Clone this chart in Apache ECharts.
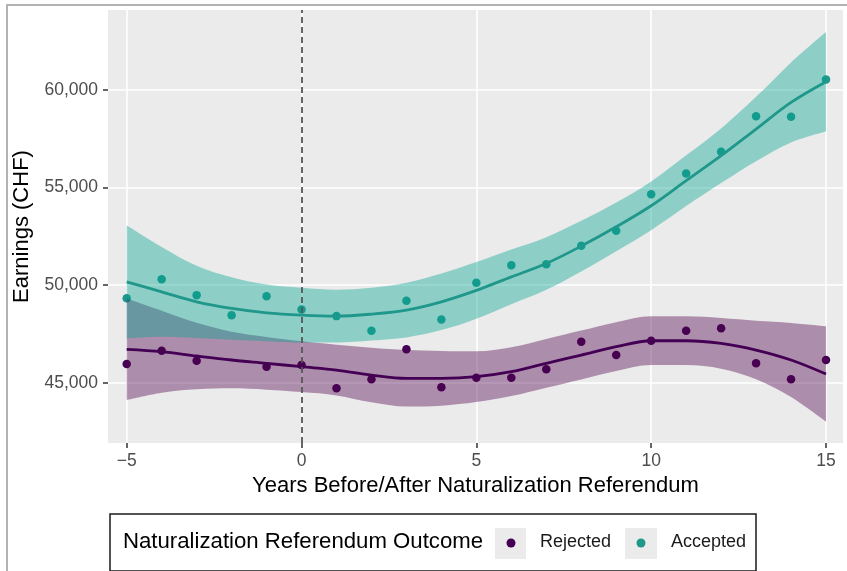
<!DOCTYPE html>
<html>
<head>
<meta charset="utf-8">
<script src="https://cdn.jsdelivr.net/npm/echarts@6/dist/echarts.min.js"></script>
<style>
  html, body { margin: 0; padding: 0; background: #fff; }
  #chart { width: 847px; height: 571px; }
</style>
</head>
<body>
<div id="chart"></div>
<script>
// years relative to the referendum
const years = [-5, -4, -3, -2, -1, 0, 1, 2, 3, 4, 5, 6, 7, 8, 9, 10, 11, 12, 13, 14, 15];

// yearly means (points)
const rejectedPts = [45958, 46640, 46127, null, 45820, 45907, 44713, 45174, 46711, 44764, 45256,
  45256, 45686, 47100, 46419, 47151, 47664, 47787, 45994, 45174, 46163];
const acceptedPts = [49334, 50307, 49488, 48463, 49436, 48753, 48412, 47660, 49197, 48241, 50120,
  51025, 51076, 52015, 52784, 54662, 55722, 56830, 58658, 58625, 60533];

// smoothed fits
const rejectedFit = [46711, 46588, 46368, 46163, 45994, 45820, 45650, 45394, 45225, 45225, 45307,
  45564, 45994, 46419, 46844, 47151, 47151, 47017, 46675, 46163, 45445];
const acceptedFit = [50169, 49657, 49145, 48804, 48580, 48463, 48412, 48514, 48719, 49145, 49730,
  50425, 51110, 52000, 52988, 54067, 55353, 56633, 58000, 59365, 60427];

// confidence bands
const rejectedLow = [44111, 44488, 44668, 44713, 44644, 44520, 44350, 43994, 43775, 43825, 44007,
  44314, 44744, 45169, 45594, 45901, 45901, 45717, 45175, 44263, 42995];
const rejectedHigh = [49311, 48688, 48068, 47613, 47344, 47120, 46950, 46794, 46675, 46625, 46607,
  46814, 47244, 47669, 48094, 48401, 48401, 48317, 48175, 48063, 47895];
const acceptedLow = [47269, 47357, 47295, 47204, 47130, 47063, 47062, 47164, 47319, 47695, 48280,
  49025, 49760, 50700, 51738, 52817, 54053, 55233, 56350, 57315, 57877];
const acceptedHigh = [53069, 51957, 50995, 50404, 50030, 49863, 49762, 49864, 50119, 50595, 51180,
  51825, 52460, 53300, 54238, 55317, 56653, 58033, 59650, 61415, 62977];

const xTicks = [-5, 0, 5, 10, 15];
const yTicks = [45000, 50000, 55000, 60000];

const PURPLE = "#440154";
const TEAL = "#1f978b";
const FONT = "Liberation Sans, Arial, sans-serif";

const X_MIN = -5.535;
const X_MAX = 15.486;
const Y_MIN = 41910;
const Y_MAX = 64100;

function pairs(ys) {
  let out = [];
  ys.forEach((y, i) => {
    if (y !== null) out.push([years[i], y]);
  });
  return out;
}

let chart = echarts.init(document.getElementById("chart"));

// panel grid (value axes) and an overlay grid over -5..15 for the stacked bands
const panel = { left: 108, right: 4, top: 10, bottom: 128 };
const pxPerYear = (847 - panel.left - panel.right) / (X_MAX - X_MIN);
const bandGrid = {
  left: panel.left + (years[0] - X_MIN) * pxPerYear,
  right: panel.right + (X_MAX - years[years.length - 1]) * pxPerYear,
  top: panel.top,
  bottom: panel.bottom,
};

// band = invisible lower line + stacked difference with area
function band(name, lo, hi, color) {
  const common = {
    type: "line",
    xAxisIndex: 1,
    yAxisIndex: 1,
    stack: name,
    smooth: 0.35,
    symbol: "none",
    silent: true,
    lineStyle: { width: 0, color: color },
  };
  return [
    Object.assign({ name: name + " low", data: lo }, common),
    Object.assign(
      { name: name + " band", data: hi.map((v, i) => v - lo[i]), areaStyle: { color: color, opacity: 0.4 } },
      common
    ),
  ];
}

const axisTickStyle = { color: "#333", width: 1.5 };

let option = {
  animation: false,
  grid: [
    Object.assign({ show: true, backgroundColor: "#ebebeb", borderWidth: 0 }, panel),
    Object.assign({ show: false }, bandGrid),
  ],
  xAxis: [
    {
      type: "value",
      min: X_MIN,
      max: X_MAX,
      splitNumber: 4,
      name: "Years Before/After Naturalization Referendum",
      nameLocation: "middle",
      nameGap: 25,
      nameTextStyle: { fontFamily: FONT, fontSize: 22, color: "#000" },
      axisLine: { show: true, onZero: false, lineStyle: { color: "rgba(0,0,0,0)" } },
      axisTick: { show: true, length: 5, lineStyle: axisTickStyle, customValues: xTicks },
      axisLabel: {
        color: "#4d4d4d",
        fontFamily: FONT,
        fontSize: 17.5,
        margin: 9,
        customValues: xTicks,
        formatter: (v) => (v < 0 ? "\u2212" + -v : String(v)),
      },
      splitLine: { show: true, lineStyle: { color: "#fff", width: 1.6 } },
    },
    {
      type: "category",
      gridIndex: 1,
      data: years,
      boundaryGap: false,
      show: false,
    },
  ],
  yAxis: [
    {
      type: "value",
      min: Y_MIN,
      max: Y_MAX,
      splitNumber: 4,
      name: "Earnings (CHF)",
      nameLocation: "middle",
      nameGap: 75,
      nameTextStyle: { fontFamily: FONT, fontSize: 22, color: "#000" },
      axisLine: { show: true, onZero: false, lineStyle: { color: "rgba(0,0,0,0)" } },
      axisTick: { show: true, length: 5, lineStyle: axisTickStyle, customValues: yTicks },
      axisLabel: {
        color: "#4d4d4d",
        fontFamily: FONT,
        fontSize: 17.5,
        margin: 10,
        customValues: yTicks,
        formatter: (v) => v.toLocaleString("en-US"),
      },
      splitLine: { show: true, lineStyle: { color: "#fff", width: 1.6 } },
    },
    {
      type: "value",
      gridIndex: 1,
      min: Y_MIN,
      max: Y_MAX,
      show: false,
      splitLine: { show: false },
    },
  ],
  graphic: [
    // frame of the picture
    { type: "polyline", shape: { points: [[7, 571], [7, 5], [847, 5]] }, style: { stroke: "#b3b3b3", lineWidth: 2, fill: null }, z: 0 },
    // legend
    { type: "rect", shape: { x: 110, y: 514, width: 646, height: 57 }, style: { fill: "#fff", stroke: "#1a1a1a", lineWidth: 1.5 }, z: 0 },
    {
      type: "text",
      left: 123,
      top: 531,
      style: { text: "Naturalization Referendum Outcome", fontFamily: FONT, fontSize: 22.2, fill: "#000" },
      z: 1,
    },
    { type: "rect", shape: { x: 495, y: 528, width: 31, height: 31 }, style: { fill: "#ebebeb" }, z: 1 },
    { type: "circle", shape: { cx: 511, cy: 543, r: 4.5 }, style: { fill: PURPLE }, z: 2 },
    {
      type: "text",
      left: 540,
      top: 533,
      style: { text: "Rejected", fontFamily: FONT, fontSize: 18, fill: "#1a1a1a" },
      z: 2,
    },
    { type: "rect", shape: { x: 625, y: 528, width: 32, height: 31 }, style: { fill: "#ebebeb" }, z: 1 },
    { type: "circle", shape: { cx: 641, cy: 543, r: 4.5 }, style: { fill: TEAL }, z: 2 },
    {
      type: "text",
      left: 671,
      top: 533,
      style: { text: "Accepted", fontFamily: FONT, fontSize: 18, fill: "#1a1a1a" },
      z: 2,
    },
  ],
  series: [
    ...band("rej", rejectedLow, rejectedHigh, "#50004e"),
    ...band("acc", acceptedLow, acceptedHigh, "#00a591"),
    {
      name: "ref",
      type: "line",
      data: [],
      markLine: {
        silent: true,
        symbol: "none",
        label: { show: false },
        lineStyle: { color: "#555", type: [6, 4], width: 1.8 },
        data: [{ xAxis: 0 }],
      },
    },
    {
      name: "Rejected fit",
      type: "line",
      data: pairs(rejectedFit),
      smooth: 0.35,
      symbol: "none",
      lineStyle: { color: PURPLE, width: 2.8 },
    },
    {
      name: "Accepted fit",
      type: "line",
      data: pairs(acceptedFit),
      smooth: 0.35,
      symbol: "none",
      lineStyle: { color: TEAL, width: 2.8 },
    },
    {
      name: "Rejected",
      type: "scatter",
      data: pairs(rejectedPts),
      symbolSize: 8.5,
      itemStyle: { color: PURPLE, opacity: 1 },
    },
    {
      name: "Accepted",
      type: "scatter",
      data: pairs(acceptedPts),
      symbolSize: 8.5,
      itemStyle: { color: TEAL, opacity: 1 },
    },
  ],
};
option && chart.setOption(option);
</script>
</body>
</html>
